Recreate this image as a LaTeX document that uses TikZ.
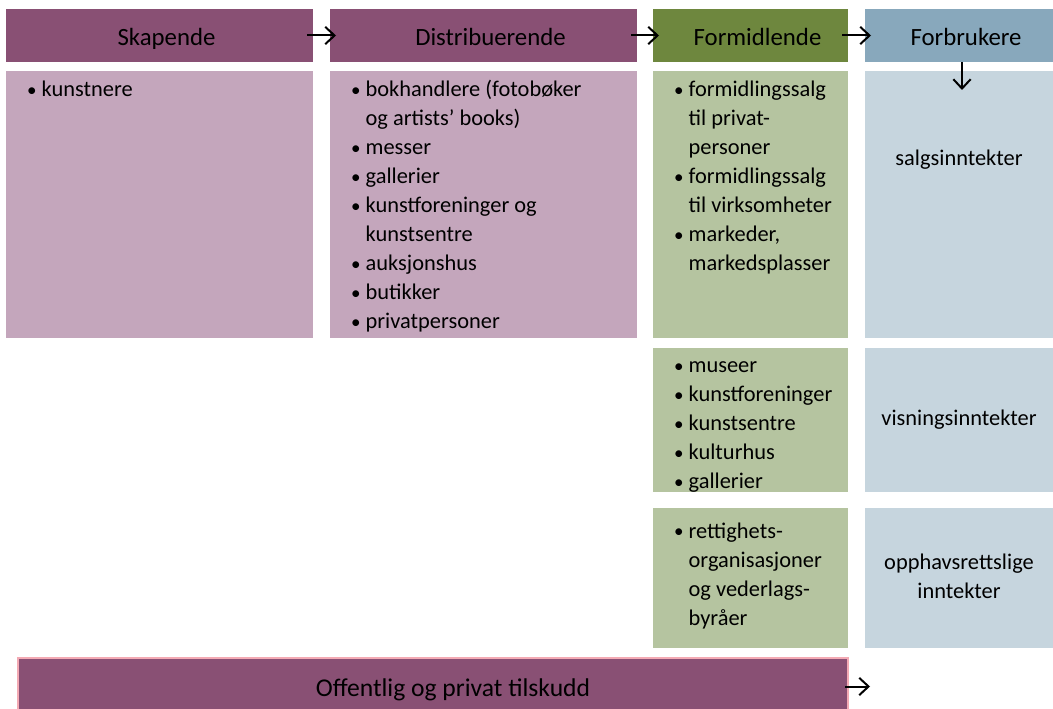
\documentclass[tikz,border=0pt]{standalone}
\usepackage{fontspec}
\setmainfont{Carlito}
\usetikzlibrary{arrows.meta,positioning}
\definecolor{KunstPlum}{HTML}{895074}
\definecolor{KunstPlumLight}{HTML}{C4A6BC}
\definecolor{KunstOlive}{HTML}{6E873E}
\definecolor{KunstOliveLight}{HTML}{B5C4A0}
\definecolor{KunstSteel}{HTML}{88A8BC}
\definecolor{KunstSteelLight}{HTML}{C6D5DE}
\definecolor{KunstRose}{HTML}{F4AAB4}
\newcommand{\bul}{\strut\makebox[11pt][l]{\raisebox{0.4pt}{\scalebox{0.85}{\textbullet}}}}
\newcommand{\ind}{\strut\hspace*{11pt}}

\begin{document}
\begin{tikzpicture}[
x=0.75pt, y=-0.75pt,
every node/.style={outer sep=0pt, inner sep=0pt},
headbox/.style={minimum height=39.75pt, text height=17pt, text depth=2pt,
  font=\fontsize{18.6}{22}\selectfont, execute at begin node=\hspace*{10.5pt}},
widebox/.style={minimum width=230.25pt},
bodybox/.style={minimum height=200.25pt},
listtext/.style={align=left, anchor=north west, font=\fontsize{16.8}{21.75}\selectfont},
sumtext/.style={align=center, font=\fontsize{16.8}{21.75}\selectfont},
arrow/.style={-{Straight Barb[length=7pt,width=13pt]}, line width=1.5pt, shorten <=-4.5pt, shorten >=-4.5pt}
]
\useasboundingbox (0,0) rectangle (1053,709);
% kolonneoverskrifter
\node[headbox, widebox, fill=KunstPlum, anchor=north west] (skap) at (6,9) {Skapende};
\node[headbox, widebox, fill=KunstPlum, right=12.75pt of skap] (dist) {Distribuerende};
\node[headbox, fill=KunstOlive, minimum width=146.25pt, right=12pt of dist] (form) {Formidlende};
\node[headbox, fill=KunstSteel, minimum width=141pt, right=12.75pt of form] (forb) {Forbrukere};
% innholdsbokser
\node[bodybox, widebox, fill=KunstPlumLight, below=6.75pt of skap] (skap1) {};
\node[bodybox, widebox, fill=KunstPlumLight, below=6.75pt of dist] (dist1) {};
\node[bodybox, fill=KunstOliveLight, minimum width=146.25pt, below=6.75pt of form] (form1) {};
\node[bodybox, fill=KunstSteelLight, minimum width=141pt, below=6.75pt of forb] (forb1) {};
\node[fill=KunstOliveLight, minimum width=146.25pt, minimum height=108pt, below=7.5pt of form1] (form2) {};
\node[fill=KunstSteelLight, minimum width=141pt, minimum height=108pt, below=7.5pt of forb1] (forb2) {};
\node[fill=KunstOliveLight, minimum width=146.25pt, minimum height=105pt, below=12pt of form2] (form3) {};
\node[fill=KunstSteelLight, minimum width=141pt, minimum height=105pt, below=12pt of forb2] (forb3) {};
\node[headbox, fill=KunstPlum, draw=KunstRose, line width=1.5pt, minimum width=622.5pt, minimum height=42.75pt,
  font=\fontsize{19.2}{22}\selectfont, execute at begin node=\hspace*{19.5pt}, anchor=north west] (tilsk) at (18,658) {Offentlig og privat tilskudd};
% lister
\node[listtext] (skapliste) at ([xshift=15.75pt, yshift=-4.2pt]skap1.north west) {\bul kunstnere};
\node[listtext] (distliste) at ([xshift=15.75pt, yshift=-4.2pt]dist1.north west) {\bul bokhandlere (fotobøker\\
\ind og artists’ books)\\
\bul messer\\
\bul gallerier\\
\bul kunstforeninger og\\
\ind kunstsentre\\
\bul auksjonshus\\
\bul butikker\\
\bul privatpersoner};
\node[listtext] (formliste1) at ([xshift=15.75pt, yshift=-4.2pt]form1.north west) {\bul formidlingssalg\\
\ind til privat-\\
\ind personer\\
\bul formidlingssalg\\
\ind til virksomheter\\
\bul markeder,\\
\ind markedsplasser};
\node[listtext] (formliste2) at ([xshift=15.75pt, yshift=-3.2pt]form2.north west) {\bul museer\\
\bul kunstforeninger\\
\bul kunstsentre\\
\bul kulturhus\\
\bul gallerier};
\node[listtext] (formliste3) at ([xshift=15.75pt, yshift=-7.4pt]form3.north west) {\bul rettighets-\\
\ind organisasjoner\\
\ind og vederlags-\\
\ind byråer};
\node[sumtext] (salg) at ([yshift=-66.75pt]forb1.north) {salgsinntekter};
\node[sumtext] (visn) at (forb2) {visningsinntekter};
\node[sumtext] (opph) at ([yshift=1.5pt]forb3) {opphavsrettslige\\inntekter};
% piler
\draw[arrow] (skap) -- (dist);
\draw[arrow] (dist) -- (form);
\draw[arrow] (form) -- (forb);
\draw[arrow, shorten <=0pt, shorten >=0pt] ([xshift=2.25pt]forb.south) -- ([xshift=2.25pt, yshift=-14.25pt]forb1.north);
\coordinate (tilskend) at ([xshift=16.5pt]tilsk.east);
\draw[arrow, shorten <=-2.25pt, shorten >=0pt] (tilsk.east) -- (tilskend);
\end{tikzpicture}
\end{document}
